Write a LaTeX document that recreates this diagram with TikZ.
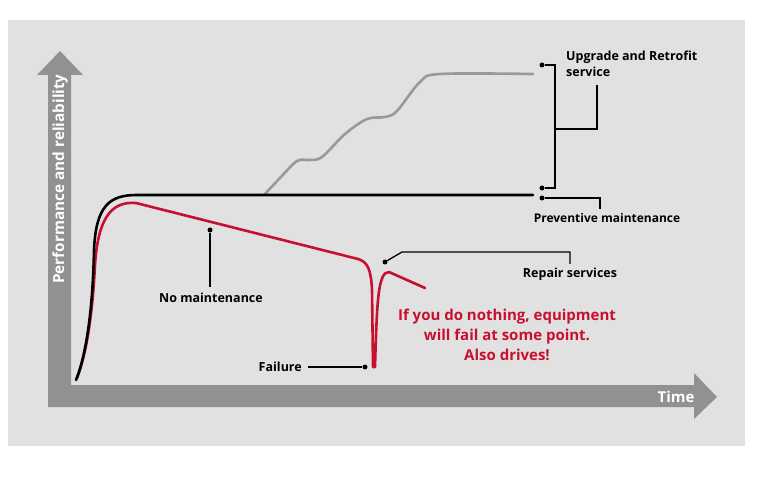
\documentclass[tikz,border=0pt]{standalone}
\usepackage{fontspec}
\setmainfont{Open Sans}
\begin{document}
\begin{tikzpicture}[x=1pt,y=-1pt,
  lbl/.style={font=\fontsize{12.5}{15}\selectfont\bfseries, text=black, inner sep=0pt},
  leader/.style={draw=black, line width=1.3pt},
  dot/.style={fill=black, circle, inner sep=0pt, minimum size=5pt},
  curve/.style={line width=2.6pt, line cap=round, line join=round}]
\definecolor{bggray}{HTML}{E1E1E1}
\definecolor{axisgray}{HTML}{919191}
\definecolor{curvegray}{HTML}{999999}
\definecolor{abbred}{HTML}{C8102E}
\useasboundingbox (0,0) rectangle (768,478);
\fill[white] (0,0) rectangle (768,478);
\fill[bggray] (8,20) rectangle (745,446);
% axes
\fill[axisgray] (48,407) -- (48,75) -- (37,75) -- (60,51) -- (83,75) -- (71,75) -- (71,385) -- (694,385) -- (694,373) -- (717,397) -- (694,419) -- (694,407) -- cycle;
\node[rotate=90, text=white, font=\fontsize{15.3}{17}\selectfont\bfseries, inner sep=0pt] (ylab) at (60,179) {Performance and reliability};
\node[text=white, font=\fontsize{15}{17}\selectfont\bfseries, inner sep=0pt] (xlab) at (676,397) {Time};
% curves
\draw[curve, curvegray] plot[smooth, tension=0.55] coordinates {(264,195) (280,178) (297,161) (310,160) (322,157) (345,134) (367,119) (385,117) (397,111) (420,82) (440,74) (533,74)};
\draw[curve, abbred] (77,378) .. controls (88,350) and (93,305) .. (95,265) .. controls (98,220) and (110,201) .. (136,203) -- (358,259) .. controls (368,262) and (371,270) .. (372,290) -- (373,367) -- (375,367) .. controls (377,300) and (378,272) .. (389,272) -- (425,288);
\draw[curve, black] (76,380) .. controls (88,350) and (93,300) .. (94,250) .. controls (96,205) and (110,195) .. (137,195) -- (533,195);
% annotations
\node[dot] (dup) at (542,65) {};
\node[dot] (dpm1) at (542,188) {};
\node[dot] (dpm2) at (542,198) {};
\coordinate (bus1) at (555,65);
\coordinate (bus2) at (555,188);
\coordinate (br1) at (555,129);
\coordinate (br2) at (597,129);
\coordinate (br3) at (597,85);
\draw[leader] (dup) -- (bus1) -- (bus2) -- (dpm1);
\draw[leader] (br1) -- (br2) -- (br3);
\coordinate (pm1) at (600,198);
\coordinate (pm2) at (600,209);
\draw[leader] (dpm2) -- (pm1) -- (pm2);
\node[lbl, anchor=north west, align=left, font=\fontsize{12.5}{16}\selectfont\bfseries] (tup) at (566,51) {Upgrade and Retrofit\\service};
\node[lbl, font=\fontsize{12}{15}\selectfont\bfseries] (tpm) at (607,218) {Preventive maintenance};
% no maintenance
\node[dot] (dnm) at (210,230) {};
\coordinate (nm2) at (210,287);
\draw[leader] (dnm) -- (nm2);
\node[lbl] (tnm) at (211,298) {No maintenance};
% repair
\node[dot] (drep) at (385,262) {};
\coordinate (r1) at (402,252);
\coordinate (r2) at (570,252);
\coordinate (r3) at (570,264);
\draw[leader] (drep) -- (r1) -- (r2) -- (r3);
\node[lbl] (trep) at (570,274) {Repair services};
% failure
\node[lbl, anchor=east] (tfail) at (302,367) {Failure};
\node[dot] (dfail) at (365,367) {};
\coordinate (f1) at (308,367);
\draw[leader] (f1) -- (dfail);
% red text
\node[text=abbred, font=\fontsize{15}{20}\selectfont\bfseries, align=center, inner sep=0pt] (note) at (507,335) {If you do nothing, equipment\\will fail at some point.\\Also drives!};
\end{tikzpicture}
\end{document}
